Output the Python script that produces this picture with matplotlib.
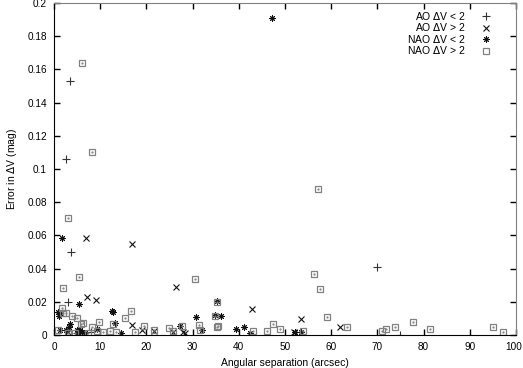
import numpy as np
import matplotlib
matplotlib.use("Agg")
import matplotlib.pyplot as plt
import matplotlib.transforms as mtransforms

plt.rcParams['font.family'] = ['Liberation Sans', 'DejaVu Sans']

# AO, dV < 2
ao_lt_x = [3.5, 2.7, 3.6, 3.1, 70.0, 74.8, 2.5, 5.0, 8.0]
ao_lt_y = [0.153, 0.106, 0.050, 0.020, 0.041, 0.0003, 0.003, 0.001, 0.002]

# AO, dV > 2
ao_gt_x = [6.9, 16.9, 26.3, 7.1, 9.0, 42.8, 53.4, 61.8, 52.0, 28.4, 16.8,
           19.0, 25.8, 21.6, 27.9, 3.0, 5.2]
ao_gt_y = [0.0586, 0.055, 0.029, 0.0227, 0.021, 0.0157, 0.0096, 0.0048,
           0.002, 0.0014, 0.006, 0.003, 0.002, 0.0024, 0.002, 0.002, 0.001]

# NAO, dV < 2
nao_lt_x = [47.2, 1.7, 5.4, 12.8, 30.8, 1.3, 1.1, 35.2, 36.1, 32.1, 39.3, 41.1,
            42.5, 52.2, 53.4, 13.2, 3.5, 34.8, 27.3, 9.2, 5.6, 2.7, 1.3, 0.9,
            4.9, 6.7, 14.6, 3.2, 5.0, 6.1, 12.6]
nao_lt_y = [0.191, 0.0586, 0.0185, 0.014, 0.011, 0.013, 0.0115, 0.0205, 0.0114,
            0.003, 0.0035, 0.005, 0.0012, 0.002, 0.002, 0.007, 0.0066, 0.012,
            0.0054, 0.0036, 0.003, 0.003, 0.003, 0.014, 0.0014, 0.001, 0.0014,
            0.005, 0.003, 0.002, 0.0145]

# NAO, dV > 2
nao_gt_x = [6.0, 8.3, 3.0, 57.1, 5.5, 1.9, 30.5, 56.2, 57.6, 59.0, 35.2, 34.8,
            35.2, 31.4, 31.6, 43.0, 46.2, 47.5, 48.9, 53.9, 63.4, 27.6, 71.1,
            71.9, 73.8, 77.6, 81.4, 95.1, 97.1, 1.7, 2.0, 2.7, 3.8, 5.0, 5.8,
            6.3, 8.2, 9.8, 12.8, 13.4, 15.4, 16.7, 17.5, 19.5, 21.6, 24.9, 25.8,
            35.6, 12.1, 3.1, 4.5, 0.9, 9.2, 10.7, 7.4]
nao_gt_y = [0.164, 0.110, 0.0707, 0.088, 0.0347, 0.0281, 0.034, 0.037, 0.0279,
            0.011, 0.020, 0.0116, 0.005, 0.006, 0.003, 0.0026, 0.0026, 0.0068,
            0.0036, 0.0026, 0.0048, 0.0056, 0.0026, 0.0036, 0.005, 0.0078,
            0.0038, 0.005, 0.0018, 0.016, 0.0134, 0.013, 0.0114, 0.010, 0.0066,
            0.007, 0.0046, 0.008, 0.0066, 0.002, 0.010, 0.0146, 0.002, 0.0054,
            0.003, 0.004, 0.0026, 0.0054, 0.0026, 0.0014, 0.0014, 0.003, 0.0026,
            0.002, 0.001]

fig = plt.figure(figsize=(5.23, 3.68), dpi=100)
ax = fig.add_axes([54 / 523, 33 / 368, 462 / 523, 332 / 368])

ax.plot(ao_lt_x, ao_lt_y, ls='none', marker='+', ms=6, mew=0.8,
        color='#333333', label=r'AO $\Delta$V < 2')
ax.plot(ao_gt_x, ao_gt_y, ls='none', marker='x', ms=5, mew=0.8,
        color='#111111', label=r'AO $\Delta$V > 2')
ax.plot(nao_lt_x, nao_lt_y, ls='none', marker=(8, 2, 0), ms=4.5, mew=0.7,
        color='#111111', label=r'NAO $\Delta$V < 2')
ax.plot(nao_gt_x, nao_gt_y, ls='none', marker='s', ms=5, mew=0.9,
        mfc='none', mec='#808080', label=r'NAO $\Delta$V > 2')
# centre dot on the boxes
ax.plot(nao_gt_x, nao_gt_y, ls='none', marker='.', ms=1.2, color='#808080')

ax.set_xlim(0, 100)
ax.set_ylim(0, 0.2)
ax.set_xticks(np.arange(0, 101, 10))
ax.set_yticks(np.arange(0, 0.201, 0.02))
ax.set_yticklabels(['%g' % round(v, 2) for v in np.arange(0, 0.201, 0.02)])
ax.tick_params(direction='in', length=4, width=1, labelsize=7.2,
               top=True, right=True, pad=5)
for s in ['top', 'right']:
    ax.spines[s].set_color('#808080')
ax.set_xlabel('Angular separation (arcsec)', fontsize=7.5, labelpad=4)
ax.set_ylabel(r'Error in $\Delta$V (mag)', fontsize=7.5, labelpad=6)

# keep the "100" label inside the canvas
last = ax.get_xticklabels()[-1]
last.set_transform(last.get_transform() +
                   mtransforms.ScaledTranslation(-2.5 / 100, 0, fig.dpi_scale_trans))

ax.legend(loc='upper right', frameon=False, markerfirst=False, fontsize=7.5,
          handlelength=1.5, handletextpad=1.2, labelspacing=-0.05,
          borderpad=0, borderaxespad=0,
          bbox_to_anchor=(1 - 22 / 462, 1 - 7 / 332))

fig.savefig('out.png', dpi=100)
